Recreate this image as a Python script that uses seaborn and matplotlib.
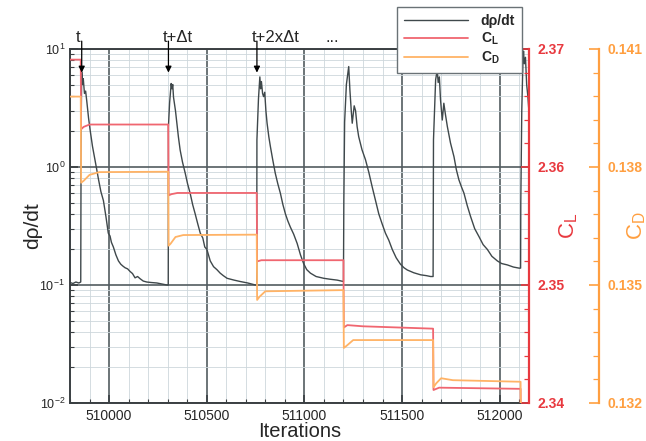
import seaborn as sns
import matplotlib.pyplot as plt
from matplotlib.ticker import MultipleLocator, FormatStrFormatter, LogLocator, NullFormatter


# ---------------- DATA ---------------- #

# density residual history (iteration, dρ/dt)
res_iter = [
    509800, 509815, 509830, 509845, 509855, 509857, 509860, 509864, 509868, 509874,
    509880, 509886, 509895, 509903, 509915, 509928, 509937, 509945, 509958, 509971,
    509984, 509996, 510005, 510012, 510022, 510035, 510048, 510060, 510070, 510082,
    510095, 510108, 510120, 510133, 510146, 510159, 510175, 510193, 510215, 510245,
    510270, 510296, 510303,
    510304, 510310, 510318, 510322, 510326, 510330, 510340, 510347, 510355, 510364,
    510376, 510390, 510402, 510415, 510428, 510441, 510454, 510467, 510480, 510490,
    510501, 510518, 510535, 510552, 510569, 510585, 510604, 510640, 510672, 510710,
    510749, 510756,
    510757, 510765, 510772, 510776, 510780, 510786, 510791, 510797, 510803, 510809,
    510818, 510826, 510838, 510851, 510864, 510877, 510890, 510903, 510915, 510928,
    510945, 510963, 510980, 510996, 511012, 511031, 511060, 511099, 511130, 511168,
    511200,
    511202, 511206, 511215, 511227, 511233, 511240, 511245, 511255, 511262, 511270,
    511278, 511295, 511313, 511330, 511347, 511364, 511381, 511398, 511415, 511432,
    511450, 511470, 511492, 511510, 511527, 511560, 511595, 511625, 511646, 511659,
    511661, 511672, 511680, 511685, 511691, 511697, 511706, 511714, 511722, 511732,
    511748, 511766, 511778, 511791, 511804, 511817, 511834, 511851, 511872, 511894,
    511915, 511937, 511960, 511988, 512010, 512039, 512070, 512099, 512107,
    512108, 512113, 512119, 512122, 512126, 512132, 512138, 512144, 512150,
]
res_val = [
    0.105, 0.103, 0.106, 0.104, 0.106, 2.2, 6.4, 5.0, 5.6, 4.2,
    4.4, 3.6, 2.6, 2.06, 1.5, 1.15, 0.95, 0.80, 0.62, 0.52,
    0.38, 0.275, 0.26, 0.23, 0.21, 0.18, 0.16, 0.15, 0.145, 0.14,
    0.137, 0.13, 0.125, 0.115, 0.118, 0.113, 0.108, 0.106, 0.105, 0.104,
    0.102, 0.100, 0.100,
    2.2, 3.5, 5.1, 4.6, 5.0, 3.9, 3.0, 2.35, 1.8, 1.39,
    1.1, 0.885, 0.72, 0.60, 0.48, 0.40, 0.33, 0.275, 0.25, 0.21,
    0.20, 0.16, 0.143, 0.135, 0.126, 0.12, 0.114, 0.11, 0.107, 0.104,
    0.100, 0.100,
    1.7, 3.8, 5.8, 4.6, 5.3, 4.2, 3.95, 4.3, 3.0, 2.35,
    1.8, 1.49, 1.15, 0.885, 0.72, 0.60, 0.48, 0.40, 0.35, 0.31,
    0.27, 0.225, 0.18, 0.152, 0.135, 0.126, 0.118, 0.114, 0.112, 0.11,
    0.107,
    0.5, 2.4, 5.0, 7.1, 4.5, 3.0, 2.35, 3.3, 3.0, 2.2,
    1.81, 1.4, 1.15, 0.9, 0.68, 0.52, 0.40, 0.33, 0.275, 0.24,
    0.20, 0.17, 0.15, 0.14, 0.134, 0.127, 0.122, 0.12, 0.118, 0.118,
    1.7, 5.5, 6.6, 5.2, 5.8, 3.7, 2.5, 3.47, 2.8, 2.2,
    1.6, 1.22, 0.95, 0.78, 0.68, 0.60, 0.47, 0.38, 0.30, 0.257,
    0.22, 0.20, 0.175, 0.16, 0.152, 0.148, 0.142, 0.139, 0.139,
    0.5, 3.0, 8.0, 9.6, 7.5, 8.5, 5.0, 4.0, 2.9,
]

# lift coefficient
cl_iter = [509800, 509855, 509857, 509870, 509900, 510303,
           510305, 510320, 510350, 510756,
           510758, 510780, 510800, 511200,
           511202, 511220, 511300, 511659,
           511661, 511690, 512107,
           512109, 512150]
cl_val = [2.3691, 2.3691, 2.3632, 2.3634, 2.3636, 2.3636,
          2.3576, 2.3577, 2.3578, 2.3578,
          2.3520, 2.3521, 2.3521, 2.3521,
          2.3464, 2.3466, 2.3465, 2.3463,
          2.3411, 2.3413, 2.3412,
          2.3350, 2.3350]

# drag coefficient
cd_iter = [509800, 509855, 509857, 509870, 509900, 509950, 510303,
           510305, 510315, 510340, 510380, 510756,
           510758, 510770, 510800, 511200,
           511202, 511215, 511250, 511659,
           511661, 511675, 511700, 511760, 512107,
           512109, 512150]
cd_val = [0.13979, 0.13979, 0.13760, 0.13765, 0.13780, 0.13787, 0.13788,
          0.13600, 0.13605, 0.13622, 0.13627, 0.13628,
          0.13462, 0.13470, 0.13484, 0.13487,
          0.13340, 0.13345, 0.13360, 0.13360,
          0.13240, 0.13250, 0.13263, 0.13258, 0.13254,
          0.13050, 0.13050]

cl_ticks = [2.34, 2.35, 2.36, 2.37]
cd_ticks = [0.132, 0.135, 0.138, 0.141]

# annotated restarts
mark_iter = [509860, 510304, 510757]
mark_text = ["t", "t+\u0394t", "t+2x\u0394t"]
dots_iter = 511110


# ---------------- STYLE ---------------- #

GRAY = "#3f484b"
RED = "#e8393f"
RED_LINE = "#f06670"
ORANGE = "#ff9f40"
ORANGE_LINE = "#ffb366"
DARK = "#3a3f42"

sns.set_style("ticks")
plt.rcParams["font.family"] = ["Liberation Sans", "DejaVu Sans"]
plt.rcParams["mathtext.default"] = "regular"


# ---------------- PLOT ---------------- #

fig = plt.figure(figsize=(6.46, 4.41), dpi=100)
ax = fig.add_axes([70 / 646, 38 / 441, 459 / 646, 354 / 441])
ax.set_yscale("log")

sns.lineplot(x=res_iter, y=res_val, ax=ax, color=GRAY, lw=1.0,
             estimator=None, sort=False)
ax.set_xlim(509800, 512150)
ax.set_ylim(1e-2, 1e1)

ax.xaxis.set_major_locator(MultipleLocator(500))
ax.xaxis.set_minor_locator(MultipleLocator(100))
ax.xaxis.set_major_formatter(FormatStrFormatter("%d"))
ax.yaxis.set_major_locator(LogLocator(base=10))
ax.yaxis.set_minor_locator(LogLocator(base=10, subs=range(2, 10)))
ax.yaxis.set_minor_formatter(NullFormatter())

ax.grid(which="major", color="#535c60", lw=1.2)
ax.grid(which="minor", color="#cdd7dc", lw=0.6)
ax.set_axisbelow(True)

ax.tick_params(which="both", direction="in", color=DARK)
ax.tick_params(which="major", length=6, width=1.2)
ax.tick_params(which="minor", length=3, width=0.8)
ax.tick_params(axis="x", labelsize=10, pad=4)
ax.tick_params(axis="y", labelsize=9)
for s in ["left", "bottom", "top", "right"]:
    ax.spines[s].set_color(DARK)
    ax.spines[s].set_linewidth(1.4)

ax.set_xlabel("Iterations", fontsize=14.5)
ax.xaxis.set_label_coords(0.5, -0.055)
ax.set_ylabel("d\u03c1/dt", fontsize=15)
ax.yaxis.set_label_coords(-0.061, 0.5)

# lift axis
ax2 = ax.twinx()
sns.lineplot(x=cl_iter, y=cl_val, ax=ax2, color=RED_LINE, lw=1.3,
             estimator=None, sort=False)
ax2.set_ylim(2.34, 2.37)
ax2.set_yticks(cl_ticks)
ax2.set_yticklabels([f"{v:.2f}" for v in cl_ticks], fontweight="bold")
ax2.yaxis.set_minor_locator(MultipleLocator(0.002))
ax2.tick_params(axis="y", which="both", direction="in", color=RED,
                labelcolor=RED, labelsize=10, pad=6)
ax2.tick_params(axis="y", which="major", length=6, width=1.2)
ax2.tick_params(axis="y", which="minor", length=3.5, width=0.9)
for s in ["left", "bottom", "top"]:
    ax2.spines[s].set_visible(False)
ax2.spines["right"].set_color(RED)
ax2.spines["right"].set_linewidth(1.6)
ax2.set_ylabel("C$_L$", fontsize=16, color=RED)
ax2.yaxis.set_label_coords(1.061, 0.5)

# drag axis
ax3 = ax.twinx()
ax3.spines["right"].set_position(("axes", 1.1525))
sns.lineplot(x=cd_iter, y=cd_val, ax=ax3, color=ORANGE_LINE, lw=1.3,
             estimator=None, sort=False)
ax3.set_ylim(0.132, 0.141)
ax3.set_yticks(cd_ticks)
ax3.set_yticklabels([f"{v:.3f}" for v in cd_ticks], fontweight="bold")
ax3.yaxis.set_minor_locator(MultipleLocator(0.0006))
for s in ["left", "bottom", "top"]:
    ax3.spines[s].set_visible(False)
ax3.spines["right"].set_color(ORANGE)
ax3.spines["right"].set_linewidth(1.6)
ax3.tick_params(axis="y", which="both", direction="in", color=ORANGE,
                labelcolor=ORANGE, labelsize=10, pad=6)
ax3.tick_params(axis="y", which="major", length=7, width=1.2)
ax3.tick_params(axis="y", which="minor", length=4, width=0.9)
ax3.set_ylabel("C$_D$", fontsize=16, color=ORANGE)
ax3.yaxis.set_label_coords(1.209, 0.5)

# restart markers
for it, txt in zip(mark_iter, mark_text):
    ax3.annotate("", xy=(it, 0.1404), xytext=(it, 0.1412),
                 xycoords="data", textcoords="data",
                 arrowprops=dict(arrowstyle="-|>", color="black", lw=0.9,
                                 mutation_scale=9, shrinkA=0, shrinkB=0),
                 annotation_clip=False)
    ax.annotate(txt, xy=(it, 1.0), xycoords=("data", "axes fraction"),
                xytext=(-4, 3), textcoords="offset points",
                ha="left", va="bottom", fontsize=12)
ax.annotate("...", xy=(dots_iter, 1.0), xycoords=("data", "axes fraction"),
            xytext=(0, 3), textcoords="offset points",
            ha="left", va="bottom", fontsize=12)

# legend
handles = [ax.get_lines()[0], ax2.get_lines()[0], ax3.get_lines()[0]]
labels = ["d\u03c1/dt", "C$_L$", "C$_D$"]
leg = ax3.legend(handles, labels, loc="upper right",
                 bbox_to_anchor=(0.985, 1.119), bbox_transform=ax3.transAxes,
                 borderaxespad=0, handlelength=4.6, labelspacing=0.2,
                 borderpad=0.5, handletextpad=0.9, fancybox=False,
                 framealpha=1, edgecolor="#6a7276",
                 prop={"weight": "bold", "size": 10})
leg.get_frame().set_linewidth(1.0)

fig.savefig("out.png", dpi=100)
